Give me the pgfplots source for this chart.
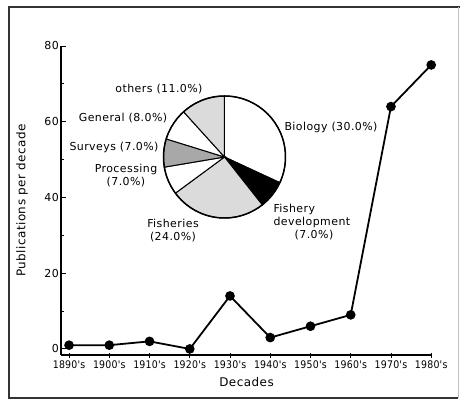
\documentclass[border=0pt]{standalone}
\usepackage{fontspec}
\setmainfont{DejaVu Sans}[LetterSpace=4]
\newfontfamily\condfont{DejaVu Sans Condensed}[LetterSpace=2]
\usepackage{pgfplots}
\pgfplotsset{compat=1.18}
\definecolor{pielight}{gray}{0.86}
\definecolor{piegray}{gray}{0.66}
\begin{document}
\begin{tikzpicture}
\useasboundingbox (0,0) rectangle (460bp,-403bp);
% frame round the figure
\draw[line width=1.5pt, black!80] (8bp,-7bp) -- (460bp,-7bp);
\draw[line width=1.8pt, black!80] (9bp,-7bp) -- (9bp,-398bp) -- (458bp,-398bp);
\draw[line width=0.7pt, black!25] (458bp,-7bp) -- (458bp,-398bp);
\begin{axis}[
  scale only axis, width=371bp, height=309bp,
  anchor=south west, at={(61bp,-355bp)},
  xmin=-0.2, xmax=9.02, ymin=-1.6, ymax=80,
  axis x line*=bottom, axis y line*=left,
  axis line style={line width=1.1pt},
  clip=false,
  xtick={0,...,9},
  xticklabels={1890's,1900's,1910's,1920's,1930's,1940's,1950's,1960's,1970's,1980's},
  ytick={0,20,40,60,80}, minor ytick={10,30,50,70},
  ytick align=inside, xtick align=center,
  major tick length=5bp, minor tick length=3bp,
  tick style={line width=0.9pt, black},
  /pgf/number format/assume math mode=true,
  xticklabel style={font=\condfont\fontsize{10.5}{12}\selectfont, inner sep=1bp, yshift=-2.5bp},
  yticklabel style={font=\fontsize{11}{13}\selectfont, inner sep=2bp},
  xlabel={Decades}, ylabel={Publications per decade},
  every axis x label/.style={at={(axis description cs:0.5,-0.087)}, anchor=center,
    font=\fontsize{12}{14}\selectfont},
  every axis y label/.style={at={(axis description cs:-0.105,0.5)}, anchor=center,
    rotate=90, font=\fontsize{12}{14}\selectfont},
]
\addplot[black, line width=1.8pt, mark=*, mark size=3.9pt] coordinates {
  (0,1) (1,1) (2,2) (3,0) (4,14) (5,3) (6,6) (7,9) (8,64) (9,75)
};
% pie of subjects, clockwise from the top; values in per cent
\pgfplotsextra{%
  \gdef\pieangle{90}%
  \foreach \v/\c in {30/white, 7/black, 24/pielight, 7/white, 7/piegray, 8/white, 11/pielight}{%
    \pgfmathsetmacro\pieend{\pieangle-\v/94*360}%
    \filldraw[fill=\c, draw=black, line width=1pt]
      (axis cs:3.863,50.69) -- ++(\pieangle:61bp)
      arc[start angle=\pieangle, end angle=\pieend, radius=61bp] -- cycle;
    \global\let\pieangle\pieend
  }%
  \draw[line width=1.5pt] (axis cs:3.863,50.69) circle[radius=61bp];
}
\end{axis}
\begin{scope}[font=\fontsize{11}{13}\selectfont]
\node at (159bp,-89bp) {others (11.0\%)};
\node at (123bp,-118bp) {General (8.0\%)};
\node at (114bp,-147bp) {Surveys (7.0\%)};
\node[align=center] at (126bp,-175.5bp) {Processing\\(7.0\%)};
\node at (331bp,-127bp) {Biology (30.0\%)};
\node[anchor=west] at (270bp,-209bp) {Fishery};
\node[anchor=west] at (270bp,-222bp) {development};
\node at (314bp,-235bp) {(7.0\%)};
\node[align=center] at (173bp,-230.5bp) {Fisheries\\(24.0\%)};
\end{scope}
\end{tikzpicture}
\end{document}
